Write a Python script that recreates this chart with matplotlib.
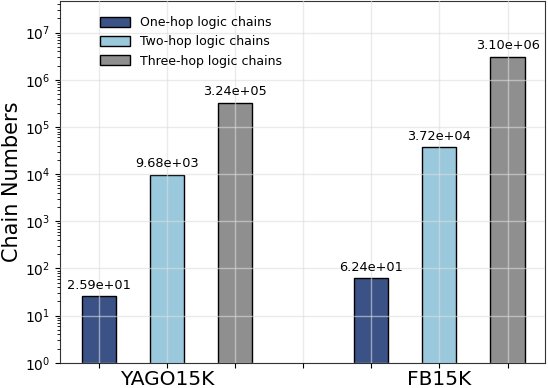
import numpy as np
import matplotlib
matplotlib.use('Agg')
import matplotlib.pyplot as plt
from matplotlib.ticker import NullFormatter

datasets = ['YAGO15K', 'FB15K']
series = ['One-hop logic chains', 'Two-hop logic chains', 'Three-hop logic chains']
values = {
    'One-hop logic chains': [2.59e+01, 6.24e+01],
    'Two-hop logic chains': [9.68e+03, 3.72e+04],
    'Three-hop logic chains': [3.24e+05, 3.10e+06],
}
colors = ['#3b5287', '#9ac9dd', '#8f8f8f']

fig, ax = plt.subplots(figsize=(5.48, 3.88), dpi=100)

width = 0.5
for i, name in enumerate(series):
    xs = [i + 4 * j for j in range(len(datasets))]
    bars = ax.bar(xs, values[name], width, color=colors[i], edgecolor='black',
                  linewidth=1.0, label=name, zorder=2)
    for b, v in zip(bars, values[name]):
        ax.text(b.get_x() + b.get_width() / 2, v * 1.25, f'{v:.2e}',
                ha='center', va='bottom', fontsize=9.3, zorder=4)

ax.set_yscale('log')
ax.set_yticks([10.0 ** k for k in range(8)])
ax.set_ylim(1, 3.10e6 * 15)
ax.yaxis.set_minor_formatter(NullFormatter())
ax.set_xlim(-0.57, 6.55)
# labelled ticks at group centres, plain ticks at every bar slot
ax.set_xticks([1, 5])
ax.set_xticklabels(datasets, fontsize=14.5)
ax.set_xticks([0, 2, 3, 4, 6], minor=True)
ax.xaxis.set_minor_formatter(NullFormatter())
ax.tick_params(axis='x', which='minor', length=3.5, width=0.8)
ax.tick_params(axis='x', pad=2)
ax.tick_params(axis='y', labelsize=10)
ax.set_ylabel('Chain Numbers', fontsize=15, labelpad=2)
ax.grid(True, which='major', color='#dddddd', alpha=0.6, linewidth=1.0, zorder=3)
ax.xaxis.grid(True, which='minor', color='#dddddd', alpha=0.6, linewidth=1.0)
ax.set_axisbelow(False)
for s in ax.spines.values():
    s.set_color('#333333')

ax.legend(loc='upper left', bbox_to_anchor=(0.06, 0.99), frameon=False, fontsize=9,
          handlelength=2.4, handleheight=0.9)

plt.subplots_adjust(left=0.1095, right=0.9945, top=0.997, bottom=0.065)
fig.savefig('out.png', dpi=100)
